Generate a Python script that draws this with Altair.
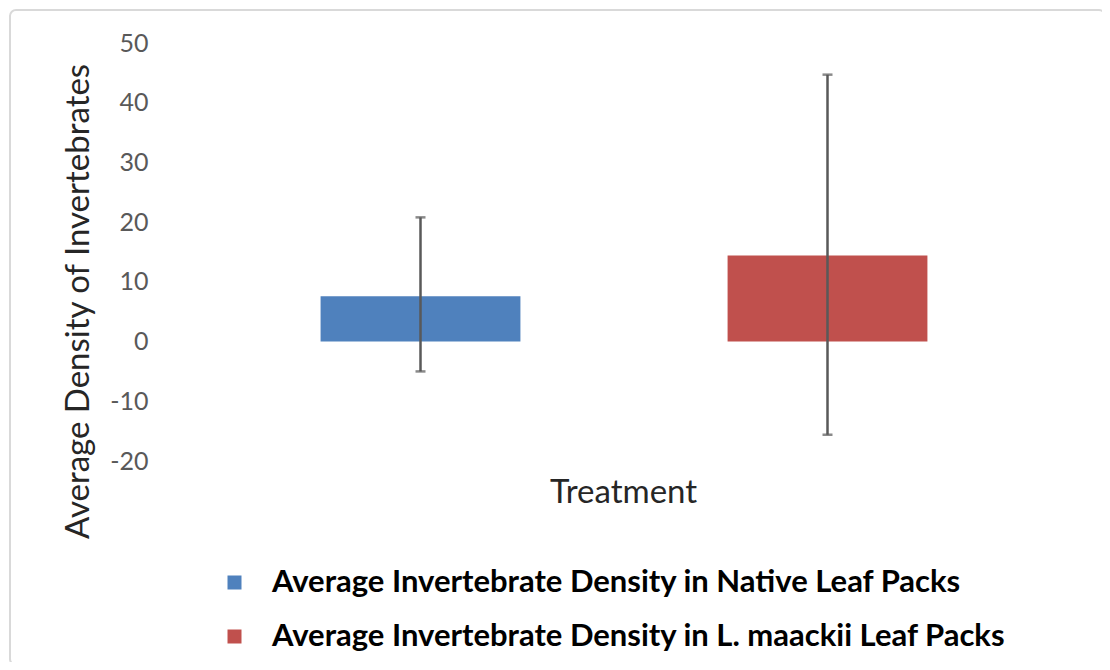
import altair as alt
import pandas as pd

series = ["Average Invertebrate Density in Native Leaf Packs",
          "Average Invertebrate Density in L. maackii Leaf Packs"]
means = [7.6, 14.4]
err_low = [-5.0, -15.6]
err_high = [20.8, 44.7]
colors = ["#4F81BD", "#C0504D"]
y_ticks = [-20, -10, 0, 10, 20, 30, 40, 50]

df = pd.DataFrame({"series": series, "mean": means, "lo": err_low, "hi": err_high})

FONT = "Lato"

x_enc = alt.X("series:N", sort=series,
              scale=alt.Scale(paddingInner=0.509, paddingOuter=0.2545),
              axis=alt.Axis(labels=False, ticks=False, domain=False, grid=False,
                            title="Treatment", titleFont=FONT, titleFontSize=33,
                            titleFontWeight="normal", titleColor="#262626",
                            titleX=406, titleY=31, titleBaseline="middle",
                            titleAlign="center"))

y_scale = alt.Scale(domain=[-20, 50], nice=False, zero=False)

bars = alt.Chart(df).mark_bar().encode(
    x=x_enc,
    y=alt.Y("mean:Q", scale=y_scale,
            axis=alt.Axis(values=y_ticks, grid=False, domain=False, ticks=False,
                          labelExpr="datum.value + ''",
                          labelFont=FONT, labelFontSize=25, labelColor="#595959",
                          labelPadding=69,
                          title="Average Density of Invertebrates",
                          titleFont=FONT, titleFontSize=33, titleFontWeight="normal",
                          titleColor="#262626", titleAngle=-90,
                          titleX=-139, titleY=258, titleAlign="center",
                          titleBaseline="middle")),
    y2=alt.datum(0),
    color=alt.Color("series:N", sort=series,
                    scale=alt.Scale(domain=series, range=colors),
                    legend=alt.Legend(title=None, orient="none", legendX=2, legendY=524,
                                      symbolType="square", symbolSize=196,
                                      symbolStrokeWidth=0, symbolOpacity=1,
                                      labelFont=FONT, labelFontSize=31,
                                      labelFontWeight="bold", labelColor="#000000",
                                      labelOffset=22, rowPadding=22, padding=0,
                                      labelLimit=900)),
)

rules = alt.Chart(df).mark_rule(color="#595959", strokeWidth=2.5).encode(
    x=alt.X("series:N", sort=series),
    y=alt.Y("lo:Q"),
    y2="hi:Q",
)

caps_hi = alt.Chart(df).mark_tick(color="#595959", thickness=2.5, size=10).encode(
    x=alt.X("series:N", sort=series), y=alt.Y("hi:Q"))
caps_lo = alt.Chart(df).mark_tick(color="#595959", thickness=2.5, size=10).encode(
    x=alt.X("series:N", sort=series), y=alt.Y("lo:Q"))

frame = alt.Chart(pd.DataFrame({"f": [0]})).mark_rect(
    fill="transparent", stroke="#d9d9d9", strokeWidth=2, cornerRadius=6).encode(
    x=alt.value(-207), x2=alt.value(888), y=alt.value(-33), y2=alt.value(622))

chart = alt.layer(frame, bars, rules, caps_hi, caps_lo).properties(
    width=814, height=418,
    padding={"left": 209, "top": 35, "right": 71, "bottom": 201},
    autosize=alt.AutoSizeParams(type="none"),
    background="white",
).configure_view(stroke=None)

chart.save("out.html", embed_options={"renderer": "svg", "actions": False})
